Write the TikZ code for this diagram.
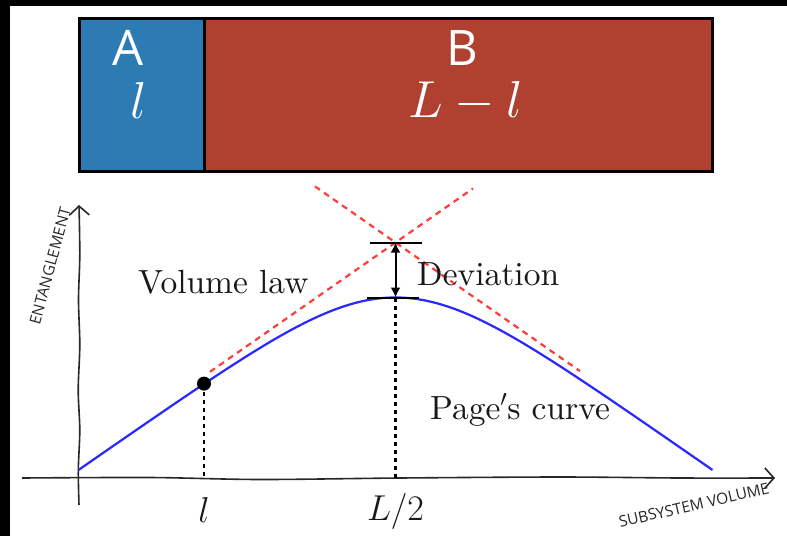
\RequirePackage{fix-cm}
\documentclass[tikz,border=0pt]{standalone}
\usepackage{fontspec}
\setmainfont{lmroman10-regular}[Extension=.otf, ItalicFont=lmroman10-italic, BoldFont=lmroman10-bold]
\newfontfamily\labelsans{Open Sans}
\usetikzlibrary{arrows.meta}
\definecolor{boxblue}{RGB}{44,123,179}
\definecolor{boxred}{RGB}{176,64,48}
\definecolor{curveblue}{RGB}{40,40,255}
\definecolor{dashred}{RGB}{255,60,60}
\definecolor{axisgray}{RGB}{40,40,40}
\definecolor{txt}{RGB}{25,25,25}
\tikzset{
  regionbox/.style={draw=black, line width=2.5pt, inner sep=0pt, minimum height=153pt, anchor=north west},
  boxletter/.style={text=white, font=\labelsans\fontsize{49}{49}\selectfont, anchor=base, inner sep=0pt},
  boxmath/.style={text=white, font=\fontsize{52}{52}\selectfont, anchor=base, inner sep=0pt},
  axisline/.style={draw=axisgray, line width=1.6pt, -{Straight Barb[length=9pt,width=20pt,line width=1.6pt]}},
  axislabel/.style={text=axisgray, font=\labelsans\fontsize{15.5}{15.5}\selectfont, inner sep=0pt},
  pagecurve/.style={draw=curveblue, line width=2.2pt},
  reddash/.style={draw=dashred, line width=2.2pt, dash pattern=on 6pt off 5pt},
  dotline/.style={draw=black, line width=2.5pt, dash pattern=on 4.5pt off 3.5pt},
  barline/.style={draw=black, line width=2pt},
  devarrow/.style={draw=black, line width=2pt, {Latex[length=10pt,width=10pt]}-{Latex[length=10pt,width=10pt]}},
  plotlabel/.style={text=txt, font=\fontsize{33.5}{36}\selectfont, inner sep=0pt},
  ticklabel/.style={text=txt, font=\fontsize{36}{36}\selectfont, inner sep=0pt, anchor=base}
}
\begin{document}
\begin{tikzpicture}[x=1pt,y=-1pt]
\useasboundingbox (0,0) rectangle (787,536);
\fill[white] (0,0) rectangle (787,536);
\fill[black] (0,0) rectangle (787,6);
\fill[black] (0,0) rectangle (10,536);

% top bar
\node[regionbox, fill=boxblue, minimum width=125pt] (boxA) at (78,17) {};
\node[regionbox, fill=boxred, minimum width=508pt] (boxB) at (203,17) {};
\node[boxletter] (labA) at (128,65) {A};
\node[boxletter] (labB) at (462,65) {B};
\node[boxmath] (lenA) at (139,118) {$l$};
\node[boxmath] (lenB) at (466,117) {$L-l$};

% axes
\draw[axisline] plot[smooth] coordinates {(79,505) (78.3,470) (79.8,430) (78.2,390) (79.8,345) (78.5,300) (79.8,255) (79,205)};
\draw[axisline] plot[smooth] coordinates {(22,478) (150,477.5) (260,479.5) (400,478) (560,477) (680,478) (775,478)};
\node[axislabel, rotate=75] (ylab) at (50,266) {ENTANGLEMENT};
\node[axislabel, rotate=13] (xlab) at (694,505) {SUBSYSTEM VOLUME};

% volume-law asymptotes
\coordinate (vlA1) at (210,371.8);
\coordinate (vlA2) at (473,188.5);
\coordinate (vlB1) at (315,186.4);
\coordinate (vlB2) at (580,371.1);
\draw[reddash] (vlA1) -- (vlA2);
\draw[reddash] (vlB1) -- (vlB2);

% Page curve
\draw[pagecurve] plot[domain=-317:317, samples=161, smooth]
  ({395.5+\x}, {470-0.6968*(317.2-abs(\x))+69.96*ln(1+exp(-2*abs(\x)/100.4))});

% markers
\coordinate (lx) at (204,478);
\coordinate (peak) at (395.5,297.5);
\coordinate (halfx) at (395.5,478);
\coordinate (devtop) at (395.5,242.5);
\draw[dotline] (204,383.6) -- (lx);
\draw[dotline] (peak) -- (halfx);
\node[circle, fill=black, inner sep=0pt, minimum size=14pt] (dot) at (204,383.6) {};

\coordinate (tb1) at (370,242.5);
\coordinate (tb2) at (422,242.5);
\coordinate (bb1) at (367,297.5);
\coordinate (bb2) at (419,297.5);
\draw[barline] (tb1) -- (tb2);
\draw[barline] (bb1) -- (bb2);
\draw[devarrow] (devtop) -- (peak);

% labels
\node[plotlabel, anchor=base west] (vlaw) at (138,293) {Volume law};
\node[plotlabel, anchor=base west] (dev) at (417,285) {Deviation};
\node[plotlabel, anchor=base west] (pagec) at (430,419) {Page$'$s curve};
\node[ticklabel] (tickl) at (204,522) {$l$};
\node[ticklabel] (tickL) at (395.5,520) {$L/2$};
\end{tikzpicture}
\end{document}
